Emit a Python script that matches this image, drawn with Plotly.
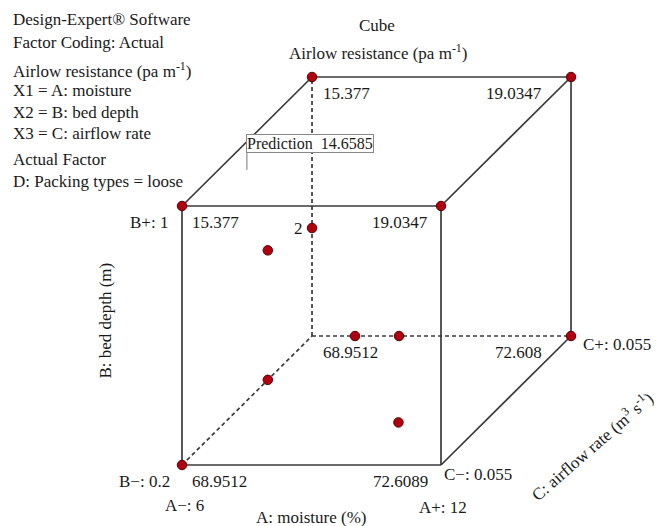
import plotly.graph_objects as go

# ---------------- data ----------------
# cube corners in coded units (A, B, C) in [0, 1] and response values
corner_A = [0, 1, 0, 1, 0, 1, 0, 1]
corner_B = [0, 0, 1, 1, 0, 0, 1, 1]
corner_C = [0, 0, 0, 0, 1, 1, 1, 1]
corner_values = ["68.9512", "72.6089", "15.377", "19.0347",
                 "68.9512", "72.608", "15.377", "19.0347"]
corner_has_point = [True, False, True, True, False, True, True, True]

# design points inside / on the cube (coded units)
pt_A = [0.0, 0.0, 0.166, 0.336, 0.0, 0.67]
pt_B = [0.5, 0.417, 0.0, 0.0, 0.0, 0.0]
pt_C = [0.66, 1.0, 1.0, 1.0, 0.66, 0.33]
pt_label = ["", "2", "", "", "", ""]

# prediction flag
pred_A, pred_B, pred_C = 0.11, 1.0, 0.28
pred_text = "Prediction\u00a0\u00a014.6585"

factor_labels = {
    "A-": "A\u2212: 6", "A+": "A+: 12",
    "B-": "B\u2212: 0.2", "B+": "B+: 1",
    "C-": "C\u2212: 0.055", "C+": "C+: 0.055",
}
axis_titles = {
    "A": "A: moisture (%)",
    "B": "B: bed depth (m)",
    "C": "C: airflow rate (m<sup>3</sup> s<sup>-1</sup>)",
}
title_lines = ["Cube", "Airlow resistance (pa m<sup>-1</sup>)"]
info_lines = [
    ("Design-Expert\u00ae Software", 20),
    ("Factor Coding: Actual", 42),
    ("Airlow resistance (pa m<sup>-1</sup>)", 70),
    ("X1 = A: moisture", 91),
    ("X2 = B: bed depth", 112),
    ("X3 = C: airflow rate", 133),
    ("Actual Factor", 160),
    ("D: Packing types = loose", 182),
]

# ---------------- projection ----------------
DX, DY = 0.502, 0.498
W, H = 657, 526
FONT = "Liberation Serif, Times New Roman, serif"
LINE = "#3a3a3a"


def proj(a, b, c):
    return a + DX * c, b + DY * c


fig = go.Figure()

edges_solid = [((0, 0, 0), (1, 0, 0)), ((1, 0, 0), (1, 1, 0)), ((1, 1, 0), (0, 1, 0)),
               ((0, 1, 0), (0, 0, 0)), ((0, 1, 1), (1, 1, 1)), ((1, 1, 1), (1, 0, 1)),
               ((0, 1, 0), (0, 1, 1)), ((1, 1, 0), (1, 1, 1)), ((1, 0, 0), (1, 0, 1))]
edges_dash = [((0, 0, 1), (0, 1, 1)), ((0, 0, 1), (1, 0, 1)), ((0, 0, 0), (0, 0, 1))]

for edges, dash in ((edges_solid, "solid"), (edges_dash, "4px,3px")):
    xs, ys = [], []
    for p, q in edges:
        x1, y1 = proj(*p)
        x2, y2 = proj(*q)
        xs += [x1, x2, None]
        ys += [y1, y2, None]
    fig.add_trace(go.Scatter(x=xs, y=ys, mode="lines",
                             line=dict(color=LINE, width=1.7, dash=dash),
                             hoverinfo="skip", showlegend=False))

# flag pole
fx, fy = proj(pred_A, pred_B, pred_C)
fig.add_trace(go.Scatter(x=[fx, fx], y=[fy, fy + 0.065], mode="lines",
                         line=dict(color="#777777", width=1), showlegend=False,
                         hoverinfo="skip"))

# markers
mx, my = [], []
for a, b, c, has in zip(corner_A, corner_B, corner_C, corner_has_point):
    if has:
        x, y = proj(a, b, c)
        mx.append(x)
        my.append(y)
for a, b, c in zip(pt_A, pt_B, pt_C):
    x, y = proj(a, b, c)
    mx.append(x)
    my.append(y)
fig.add_trace(go.Scatter(x=mx, y=my, mode="markers",
                         marker=dict(size=9.5, color="#b0000f",
                                     line=dict(color="#5a0000", width=1)),
                         showlegend=False, hoverinfo="skip"))

ann = []
fnt = dict(family=FONT, size=17, color="#1a1a1a")

# corner values
for a, b, c, v in zip(corner_A, corner_B, corner_C, corner_values):
    x, y = proj(a, b, c)
    if a == 0:
        ann.append(dict(x=x, y=y, text=v, xanchor="left", yanchor="top",
                        xshift=8 if c == 0 else 9, yshift=-5, showarrow=False, font=fnt))
    else:
        ann.append(dict(x=x, y=y, text=v, xanchor="right", yanchor="top",
                        xshift=-11 if c == 0 else -27, yshift=-5, showarrow=False, font=fnt))

# point labels
for a, b, c, t in zip(pt_A, pt_B, pt_C, pt_label):
    if t:
        x, y = proj(a, b, c)
        ann.append(dict(x=x, y=y, text=t, xanchor="right", yanchor="middle",
                        xshift=-7, showarrow=False, font=fnt))

# factor level labels
x, y = proj(0, 1, 0)
ann.append(dict(x=x, y=y, text=factor_labels["B+"], xanchor="right", yanchor="top",
                xshift=-12, yshift=-5, showarrow=False, font=fnt))
x, y = proj(0, 0, 0)
ann.append(dict(x=x, y=y, text=factor_labels["B-"], xanchor="right", yanchor="top",
                xshift=-10, yshift=-5, showarrow=False, font=fnt))
ann.append(dict(x=x, y=y, text=factor_labels["A-"], xanchor="center", yanchor="top",
                xshift=2, yshift=-29, showarrow=False, font=fnt))
x, y = proj(1, 0, 0)
ann.append(dict(x=x, y=y, text=factor_labels["A+"], xanchor="center", yanchor="top",
                xshift=2, yshift=-31, showarrow=False, font=fnt))
ann.append(dict(x=x, y=y, text=factor_labels["C-"], xanchor="left", yanchor="middle",
                xshift=1, yshift=-9, showarrow=False, font=fnt))
x, y = proj(1, 0, 1)
ann.append(dict(x=x, y=y, text=factor_labels["C+"], xanchor="left", yanchor="middle",
                xshift=10, yshift=-8, showarrow=False, font=fnt))

# axis titles
x0, y0 = proj(0.5, 0, 0)
ann.append(dict(x=x0, y=y0, text=axis_titles["A"], xanchor="center", yanchor="middle",
                xshift=-1, yshift=-52, showarrow=False, font=fnt))
x0, y0 = proj(0, 0.5, 0)
ann.append(dict(x=x0, y=y0, text=axis_titles["B"], textangle=-90, xanchor="center",
                yanchor="middle", xshift=-77, yshift=15, showarrow=False, font=fnt))
x0, y0 = proj(1, 0, 0.5)
ann.append(dict(x=x0, y=y0, text=axis_titles["C"], textangle=-41, xanchor="center",
                yanchor="middle", xshift=85, yshift=-45, showarrow=False, font=fnt))

# titles (paper coords from top)
ann.append(dict(x=377 / W, y=1 - 25 / H, xref="paper", yref="paper", text=title_lines[0],
                xanchor="center", yanchor="middle", showarrow=False, font=fnt))
ann.append(dict(x=378 / W, y=1 - 52 / H, xref="paper", yref="paper", text=title_lines[1],
                xanchor="center", yanchor="middle", showarrow=False, font=fnt))
for t, py in info_lines:
    ann.append(dict(x=11 / W, y=1 - py / H, xref="paper", yref="paper", text=t,
                    xanchor="left", yanchor="middle", showarrow=False, font=fnt))

# prediction box
ann.append(dict(x=fx, y=fy + 0.065, text=pred_text, xanchor="left", yanchor="bottom",
                xshift=-1, showarrow=False, bgcolor="white", bordercolor="#888888",
                borderwidth=1, borderpad=0, font=dict(family=FONT, size=16, color="#1a1a1a")))

fig.update_layout(
    width=W, height=H, margin=dict(l=0, r=0, t=0, b=0),
    paper_bgcolor="white", plot_bgcolor="white",
    xaxis=dict(range=[-182 / 259, (W - 182) / 259], visible=False, fixedrange=True),
    yaxis=dict(range=[(465 - H) / 259, 465 / 259], visible=False, fixedrange=True),
    annotations=ann,
)

fig.write_html("out.html")
